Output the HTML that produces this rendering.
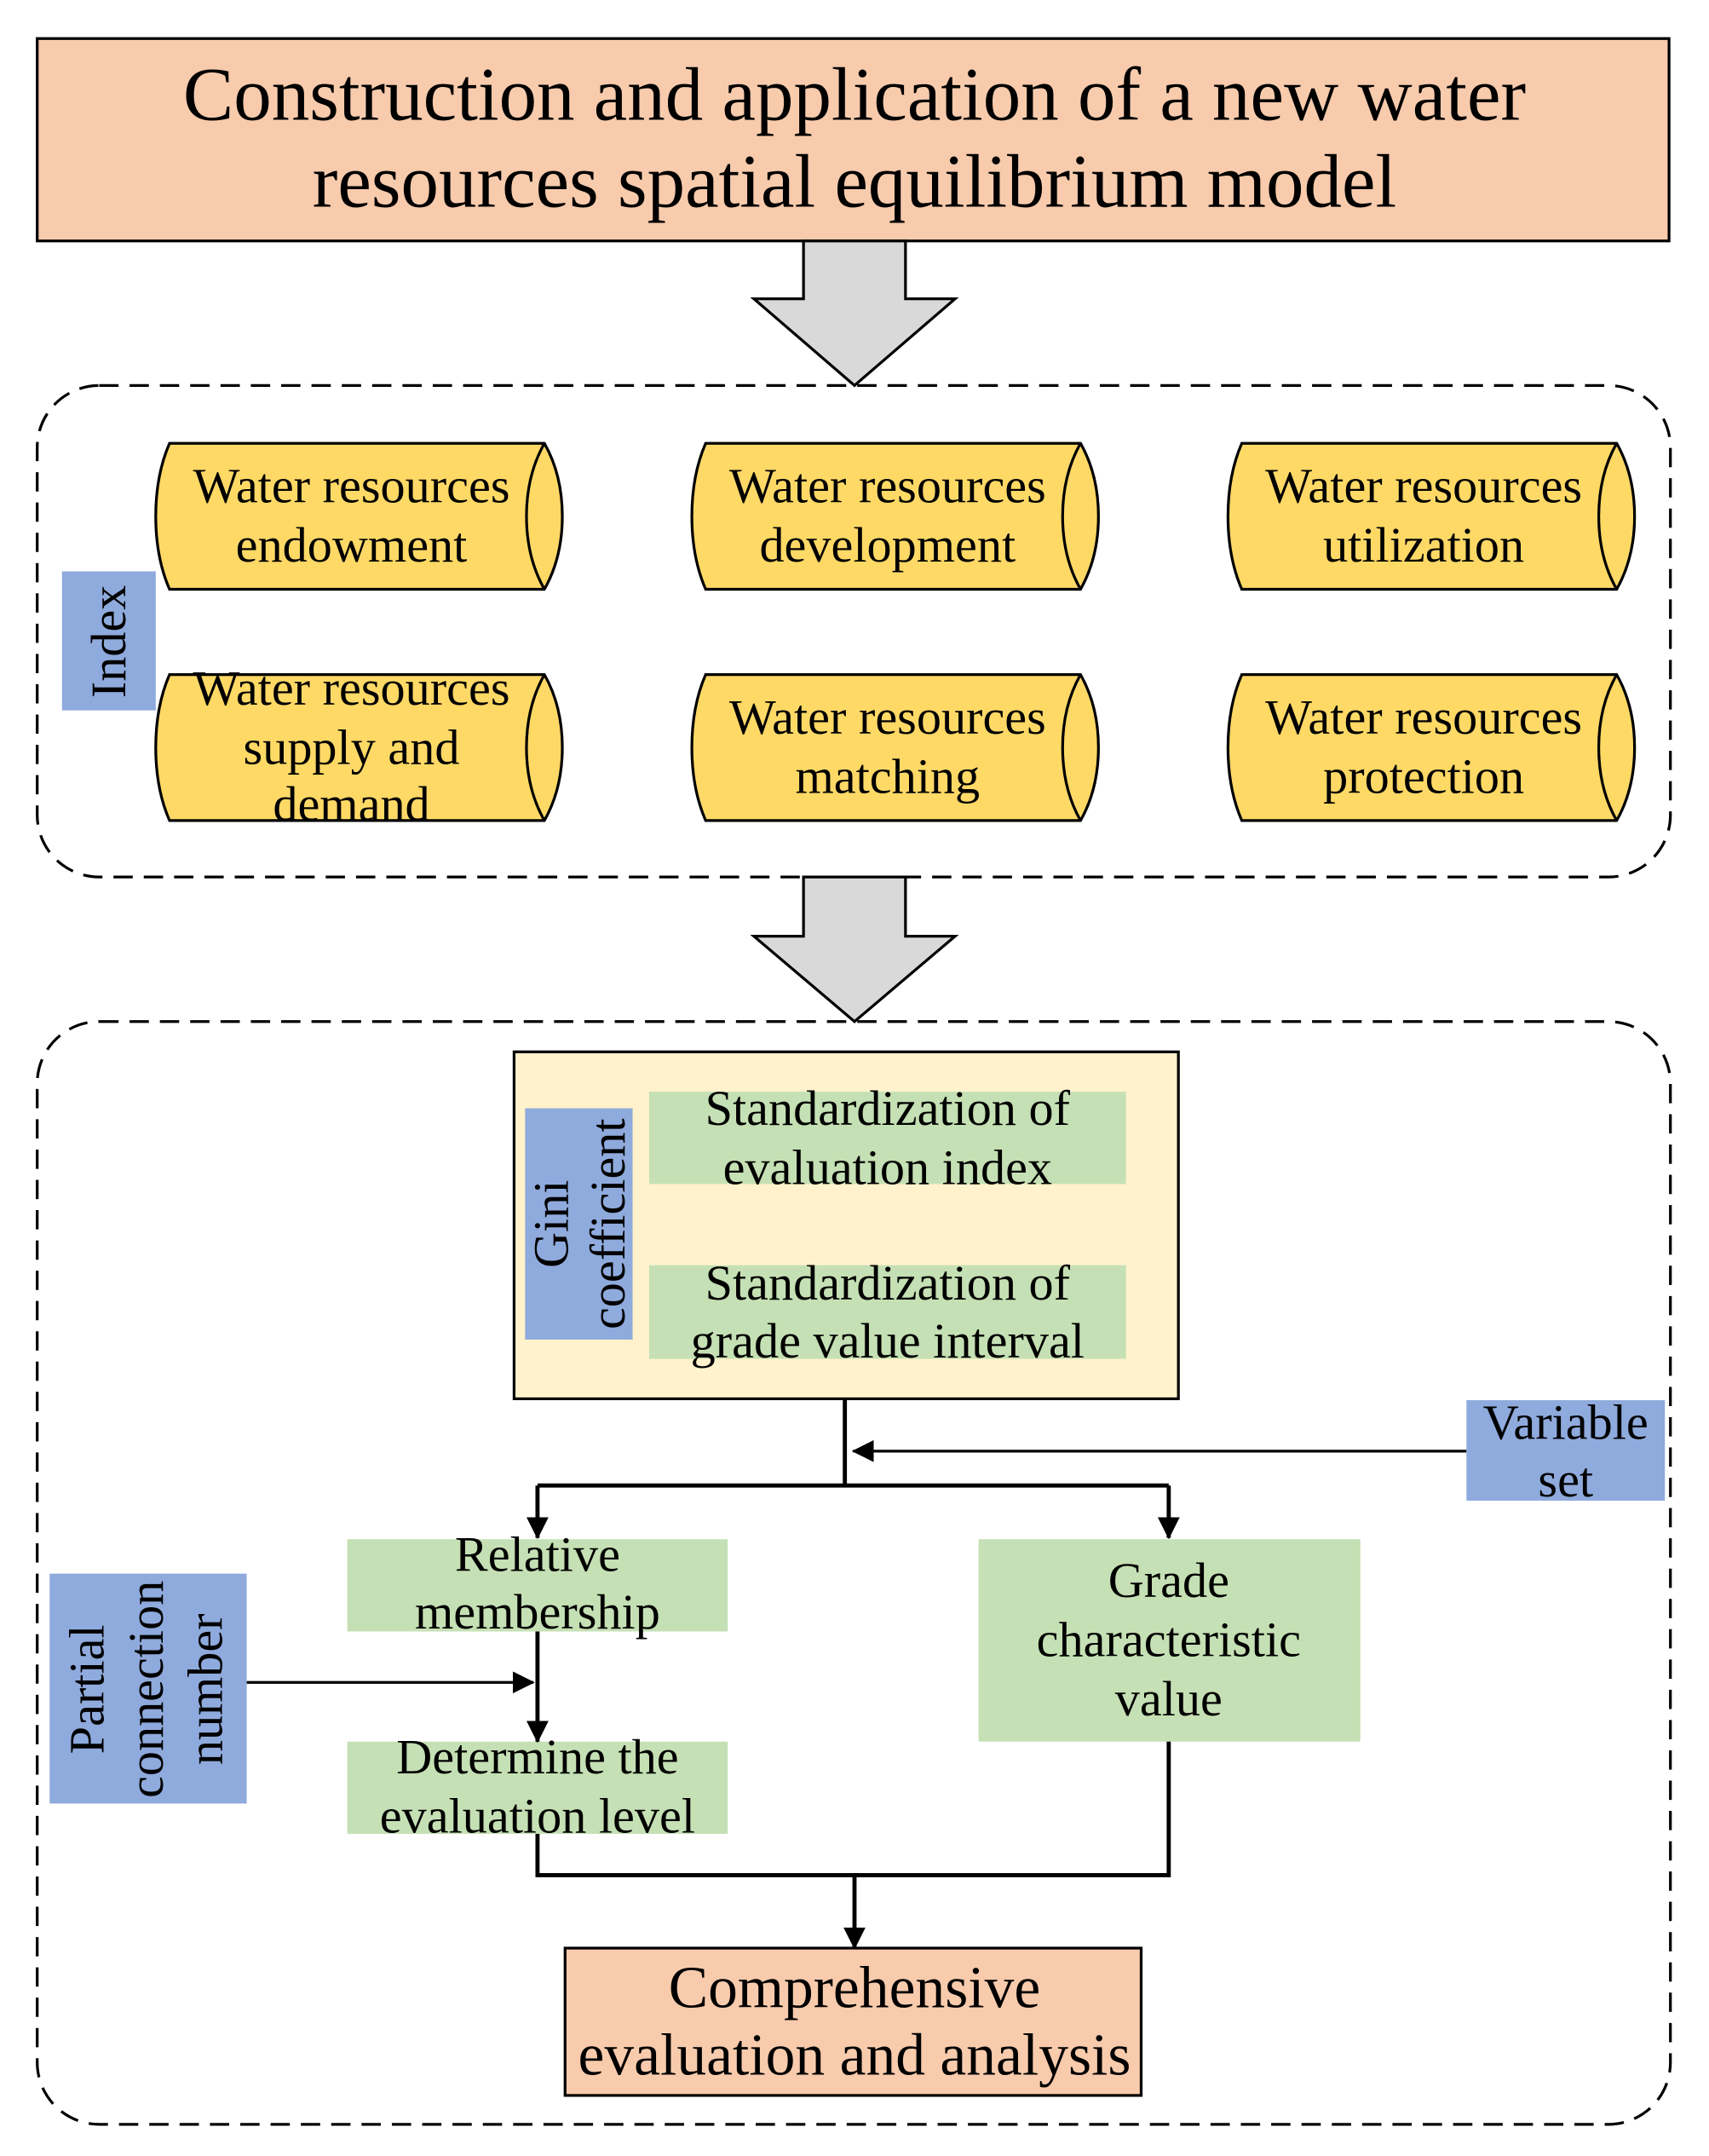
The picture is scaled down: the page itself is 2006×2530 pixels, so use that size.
<!DOCTYPE html>
<html><head><style>body{margin:0;background:#fff}svg{display:block}</style></head><body>
<svg width="2006" height="2530" viewBox="0 0 1240 1566" preserveAspectRatio="none" xmlns="http://www.w3.org/2000/svg" font-family="Liberation Serif, serif">
<defs>
<marker id="ah" markerWidth="16" markerHeight="16" refX="15" refY="8" orient="auto" markerUnits="userSpaceOnUse" viewBox="0 0 16 16"><path d="M0,0 L16,8 L0,16 Z" fill="#000"/></marker>
</defs>
<rect x="27" y="28" width="1184" height="147" fill="#F8CBAD" stroke="#000" stroke-width="2"/>
<text x="620" y="87" font-size="55" text-anchor="middle">Construction and application of a new water</text>
<text x="620" y="150" font-size="55" text-anchor="middle">resources spatial equilibrium model</text>
<path d="M583,175 L657,175 L657,217 L693,217 L620,280 L547,217 L583,217 Z" fill="#D9D9D9" stroke="#000" stroke-width="2"/>
<rect x="27" y="280" width="1185" height="357" rx="45" fill="none" stroke="#000" stroke-width="2" stroke-dasharray="14,8"/>
<g font-size="36" text-anchor="middle" stroke-width="2">
<g id="c1">
<path d="M123,322 L395,322 Q408,345 408,375 Q408,405 395,428 L123,428 Q113,405 113,375 Q113,345 123,322 Z" fill="#FFD966" stroke="#000"/>
<path d="M395,322 Q382,345 382,375 Q382,405 395,428" fill="none" stroke="#000"/>
</g>
<use href="#c1" x="389"/><use href="#c1" x="778"/>
<use href="#c1" y="168"/><use href="#c1" x="389" y="168"/><use href="#c1" x="778" y="168"/>
<text x="255" y="365">Water resources</text><text x="255" y="408">endowment</text>
<text x="644" y="365">Water resources</text><text x="644" y="408">development</text>
<text x="1033" y="365">Water resources</text><text x="1033" y="408">utilization</text>
<text x="255" y="512">Water resources</text><text x="255" y="555">supply and</text><text x="255" y="596">demand</text>
<text x="644" y="533">Water resources</text><text x="644" y="576">matching</text>
<text x="1033" y="533">Water resources</text><text x="1033" y="576">protection</text>
</g>
<rect x="45" y="415" width="68" height="101" fill="#8FAADC"/>
<text transform="translate(91,466) rotate(-90)" font-size="36" text-anchor="middle">Index</text>
<path d="M583,637 L657,637 L657,680 L693,680 L620,742 L547,680 L583,680 Z" fill="#D9D9D9" stroke="#000" stroke-width="2"/>
<rect x="27" y="742" width="1185" height="801" rx="45" fill="none" stroke="#000" stroke-width="2" stroke-dasharray="14,8"/>
<rect x="373" y="764" width="482" height="252" fill="#FFF2CC" stroke="#000" stroke-width="2"/>
<rect x="381" y="805" width="78" height="168" fill="#8FAADC"/>
<text transform="translate(412,889) rotate(-90)" font-size="36" text-anchor="middle">Gini</text>
<text transform="translate(453,889) rotate(-90)" font-size="36" text-anchor="middle">coefficient</text>
<g fill="#C5E0B4"><rect x="471" y="793" width="346" height="67"/><rect x="471" y="919" width="346" height="68"/>
<rect x="252" y="1118" width="276" height="67"/><rect x="252" y="1265" width="276" height="67"/><rect x="710" y="1118" width="277" height="147"/></g>
<g font-size="36" text-anchor="middle">
<text x="644" y="817">Standardization of</text><text x="644" y="860">evaluation index</text>
<text x="644" y="944">Standardization of</text><text x="644" y="986">grade value interval</text>
<text x="390" y="1141">Relative</text><text x="390" y="1183">membership</text>
<text x="390" y="1288">Determine the</text><text x="390" y="1331">evaluation level</text>
<text x="848" y="1160">Grade</text><text x="848" y="1203">characteristic</text><text x="848" y="1246">value</text>
</g>
<g fill="none" stroke="#000" stroke-width="3">
<path d="M613,1016 L613,1079"/>
<path d="M390,1079 L848,1079"/>
<path d="M390,1079 L390,1117" marker-end="url(#ah)"/>
<path d="M848,1079 L848,1117" marker-end="url(#ah)"/>
<path d="M390,1185 L390,1265" marker-end="url(#ah)"/>
<path d="M390,1332 L390,1362 L848,1362 L848,1265"/>
<path d="M620,1362 L620,1415" marker-end="url(#ah)"/>
</g>
<g fill="none" stroke="#000" stroke-width="2">
<path d="M1064,1054 L619,1054" marker-end="url(#ah)"/>
<path d="M179,1222 L387,1222" marker-end="url(#ah)"/>
</g>
<rect x="1064" y="1017" width="144" height="73" fill="#8FAADC"/>
<text x="1136" y="1045" font-size="36" text-anchor="middle">Variable</text>
<text x="1136" y="1087" font-size="36" text-anchor="middle">set</text>
<rect x="36" y="1143" width="143" height="167" fill="#8FAADC"/>
<g font-size="36" text-anchor="middle">
<text transform="translate(75,1227) rotate(-90)">Partial</text>
<text transform="translate(118,1227) rotate(-90)">connection</text>
<text transform="translate(161,1227) rotate(-90)">number</text>
</g>
<rect x="410" y="1415" width="418" height="107" fill="#F8CBAD" stroke="#000" stroke-width="2"/>
<text x="620" y="1458" font-size="43" text-anchor="middle">Comprehensive</text>
<text x="620" y="1507" font-size="43" text-anchor="middle">evaluation and analysis</text>
</svg>
</body></html>
